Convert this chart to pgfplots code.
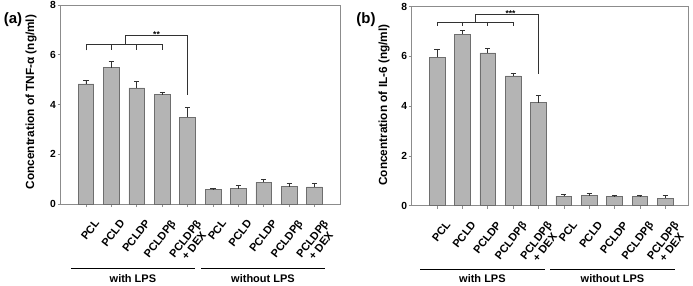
\documentclass[border=0pt]{standalone}
\usepackage{fontspec}
\setmainfont{Liberation Sans}
\usepackage{pgfplots}
\usepackage{pgfplotstable}
\pgfplotsset{compat=1.18}
\definecolor{barfill}{RGB}{180,180,180}
\definecolor{baredge}{RGB}{110,110,110}
\definecolor{frame}{RGB}{140,140,140}
\definecolor{ink}{RGB}{50,50,50}

\pgfplotstableread{
x y e
0 4.83 0.13
1 5.48 0.25
2 4.67 0.26
3 4.40 0.11
4 3.49 0.39
5 0.58 0.05
6 0.62 0.12
7 0.87 0.11
8 0.70 0.15
9 0.69 0.16
}\tnfdata

\pgfplotstableread{
x y e
0 5.96 0.34
1 6.90 0.15
2 6.14 0.18
3 5.22 0.12
4 4.14 0.29
5 0.39 0.08
6 0.40 0.09
7 0.37 0.06
8 0.37 0.06
9 0.30 0.12
}\ilsixdata

\pgfplotsset{
  mybar/.style={
    scale only axis,
    height=199pt,
    ymin=0, ymax=8, ytick={0,2,4,6,8},
    xmin=-1,
    xtick={0,...,9},
    xticklabels={PCL,PCLD,PCLDP,PCLDPβ,{PCLDPβ\\+ DEX},PCL,PCLD,PCLDP,PCLDPβ,{PCLDPβ\\+ DEX}},
    xtick pos=bottom, ytick pos=left,
    tick align=outside,
    major tick length=3pt,
    tick style={frame, line width=0.6pt},
    axis line style={frame, line width=0.8pt},
    /pgf/number format/assume math mode=true,
    yticklabel style={font=\bfseries\fontsize{10.3}{10.3}\selectfont, inner sep=1.5pt},
    xticklabel style={font=\bfseries\fontsize{11}{11}\selectfont, rotate=52, anchor=north east, align=center, inner sep=0.3pt, yshift=-13pt, xshift=-4pt},
    clip=false,
    ybar, bar width=15.7pt,
  },
  barstyle/.style={fill=barfill, draw=baredge, line width=0.6pt,
    error bars/.cd, y dir=plus, y explicit,
    error bar style={ink, line width=0.6pt},
    error mark options={rotate=90, mark size=2.6pt, ink, line width=0.6pt}},
}

\begin{document}
\begin{tikzpicture}[x=1pt,y=1pt]
\path[use as bounding box] (0,0) rectangle (693,285);

% ---------- (a) ----------
\begin{axis}[mybar, at={(60.5pt,81pt)}, anchor=south west, width=279.5pt, xmax=10]
\addplot+[barstyle] table[x=x, y=y, y error=e] {\tnfdata};
\draw[ink, line width=0.7pt] (axis cs:0,6.18) -- (axis cs:0,6.41) -- (axis cs:3,6.41) -- (axis cs:3,6.18);
\draw[ink, line width=0.7pt] (axis cs:1,6.41) -- (axis cs:1,6.18);
\draw[ink, line width=0.7pt] (axis cs:2,6.41) -- (axis cs:2,6.18);
\draw[ink, line width=0.7pt] (axis cs:1.56,6.41) -- (axis cs:1.56,6.8) -- (axis cs:4,6.8) -- (axis cs:4,4.37);
\node[anchor=south, inner sep=0pt, font=\bfseries\fontsize{8.5}{8.5}\selectfont, yshift=-2.5pt] at (axis cs:2.78,6.8) {**};
\draw[black, line width=0.8pt] (axis cs:-0.59,-2.6) -- (axis cs:4.29,-2.6);
\draw[black, line width=0.8pt] (axis cs:4.53,-2.6) -- (axis cs:9.41,-2.6);
\node[font=\bfseries\fontsize{11}{11}\selectfont] at (axis cs:1.85,-2.98) {with LPS};
\node[font=\bfseries\fontsize{11}{11}\selectfont] at (axis cs:6.97,-2.98) {without LPS};
\end{axis}
\node[rotate=90, font=\bfseries\fontsize{11.8}{12}\selectfont] at (31,183) {Concentration of TNF-α (ng/ml)};
\node[font=\bfseries\fontsize{15}{15}\selectfont] at (13,265) {(a)};

% ---------- (b) ----------
\begin{axis}[mybar, at={(411.7pt,79.3pt)}, anchor=south west, width=276.3pt, xmax=9.9]
\addplot+[barstyle] table[x=x, y=y, y error=e] {\ilsixdata};
\draw[ink, line width=0.7pt] (axis cs:0,7.23) -- (axis cs:0,7.39) -- (axis cs:3,7.39) -- (axis cs:3,7.23);
\draw[ink, line width=0.7pt] (axis cs:1,7.39) -- (axis cs:1,7.23);
\draw[ink, line width=0.7pt] (axis cs:2,7.39) -- (axis cs:2,7.23);
\draw[ink, line width=0.7pt] (axis cs:1.51,7.39) -- (axis cs:1.51,7.70) -- (axis cs:4,7.70) -- (axis cs:4,5.3);
\node[anchor=south, inner sep=0pt, font=\bfseries\fontsize{8.5}{8.5}\selectfont, yshift=-2.5pt] at (axis cs:2.9,7.70) {***};
\draw[black, line width=0.8pt] (axis cs:-0.66,-2.57) -- (axis cs:4.24,-2.57);
\draw[black, line width=0.8pt] (axis cs:4.46,-2.57) -- (axis cs:9.38,-2.57);
\node[font=\bfseries\fontsize{11}{11}\selectfont] at (axis cs:1.79,-2.92) {with LPS};
\node[font=\bfseries\fontsize{11}{11}\selectfont] at (axis cs:6.92,-2.92) {without LPS};
\end{axis}
\node[rotate=90, font=\bfseries\fontsize{11.8}{12}\selectfont] at (384,180) {Concentration of IL-6 (ng/ml)};
\node[font=\bfseries\fontsize{15}{15}\selectfont] at (366,265) {(b)};
\end{tikzpicture}
\end{document}
